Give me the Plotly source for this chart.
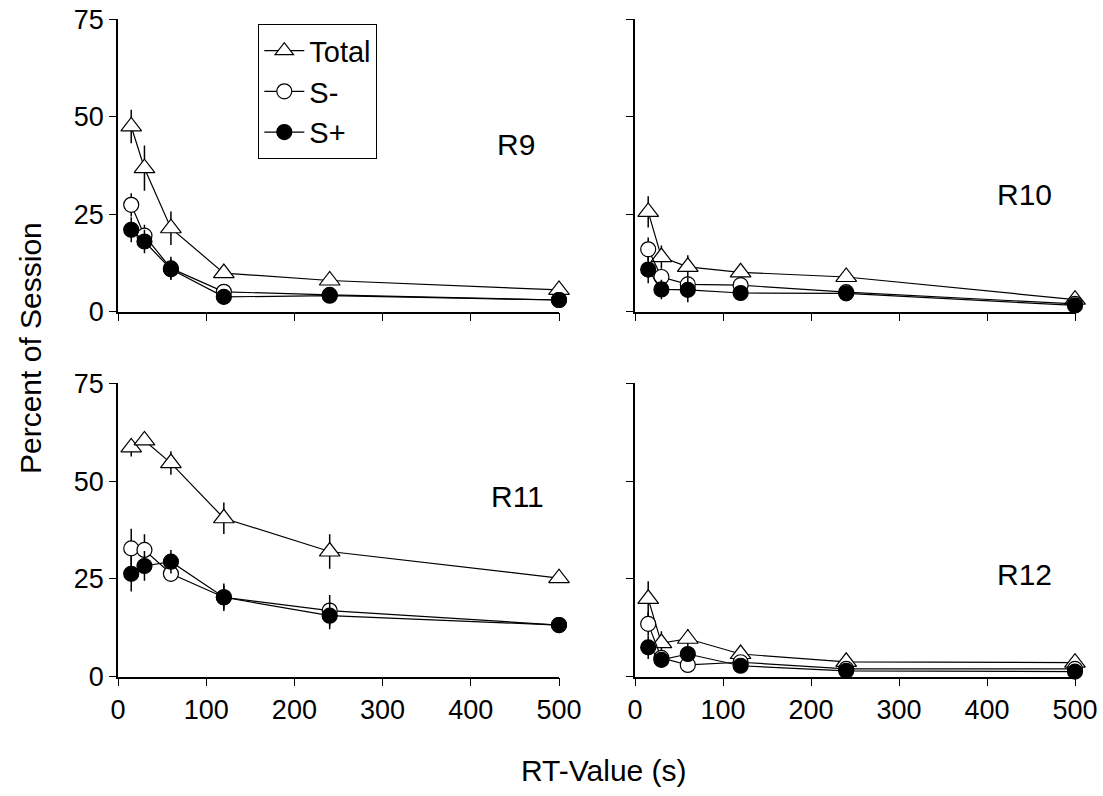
import plotly.graph_objects as go
from plotly.subplots import make_subplots

# RT schedule values (s)
rt_values = [15, 30, 60, 120, 240, 500]

# Percent of session per subject: means and error half-widths
r9_total = [47.5, 36.8, 21.4, 9.9, 8.0, 5.6]
r9_total_err = [4.3, 5.8, 4.3, 1.2, 0.8, 0.5]
r9_sminus = [27.4, 19.5, 11.1, 5.1, 4.3, 3.0]
r9_sminus_err = [3.0, 2.8, 3.0, 1.5, 0.5, 0.5]
r9_splus = [21.0, 18.0, 10.9, 3.8, 4.1, 3.0]
r9_splus_err = [3.2, 3.0, 2.5, 1.2, 0.5, 0.5]

r10_total = [25.6, 14.0, 11.5, 10.1, 8.9, 3.1]
r10_total_err = [4.0, 3.0, 3.0, 1.0, 1.0, 0.5]
r10_sminus = [16.0, 8.9, 7.0, 6.8, 5.0, 2.0]
r10_sminus_err = [3.0, 2.0, 1.0, 1.0, 0.5, 0.5]
r10_splus = [10.8, 5.7, 5.6, 4.8, 4.7, 1.6]
r10_splus_err = [3.5, 2.5, 3.2, 1.0, 1.0, 0.5]

r11_total = [58.6, 60.4, 54.6, 40.5, 32.0, 25.2]
r11_total_err = [2.3, 1.0, 3.0, 4.0, 4.4, 0.8]
r11_sminus = [32.8, 32.4, 26.3, 20.3, 16.9, 13.2]
r11_sminus_err = [5.0, 4.0, 2.0, 3.0, 4.0, 0.5]
r11_splus = [26.3, 28.3, 29.4, 20.3, 15.6, 13.2]
r11_splus_err = [4.5, 3.8, 3.0, 3.5, 3.5, 1.0]

r12_total = [19.9, 8.6, 9.7, 5.8, 3.8, 3.6]
r12_total_err = [4.5, 3.0, 2.5, 1.0, 0.8, 0.5]
r12_sminus = [13.5, 4.8, 3.0, 3.7, 2.0, 2.0]
r12_sminus_err = [3.0, 1.0, 0.5, 1.5, 0.8, 0.5]
r12_splus = [7.5, 4.3, 5.8, 2.8, 1.5, 1.3]
r12_splus_err = [3.0, 1.0, 1.0, 1.0, 0.5, 0.5]

subject_labels = ["R9", "R10", "R11", "R12"]
series_names = ["Total", "S-", "S+"]
y_tick_values = [0, 25, 50, 75]
x_tick_values = [0, 100, 200, 300, 400, 500]

panels = [
    (1, 1, [r9_total, r9_sminus, r9_splus], [r9_total_err, r9_sminus_err, r9_splus_err], (451, 43)),
    (1, 2, [r10_total, r10_sminus, r10_splus], [r10_total_err, r10_sminus_err, r10_splus_err], (443, 30)),
    (2, 1, [r11_total, r11_sminus, r11_splus], [r11_total_err, r11_sminus_err, r11_splus_err], (453, 46)),
    (2, 2, [r12_total, r12_sminus, r12_splus], [r12_total_err, r12_sminus_err, r12_splus_err], (443, 26)),
]

FONT = "Liberation Sans, Arial, sans-serif"

marker_styles = [
    dict(symbol="triangle-up", size=18, color="white", line=dict(color="black", width=1.2)),
    dict(symbol="circle", size=15, color="white", line=dict(color="black", width=1.2)),
    dict(symbol="circle", size=15, color="black", line=dict(color="black", width=1.2)),
]

fig = make_subplots(rows=2, cols=2, horizontal_spacing=0.05, vertical_spacing=0.05)

for idx, (r, c, means, errs, label_pos) in enumerate(panels):
    for s in range(3):
        fig.add_trace(
            go.Scatter(
                x=rt_values,
                y=means[s],
                mode="lines+markers",
                name=series_names[s],
                showlegend=(idx == 0),
                line=dict(color="black", width=1.2),
                marker=marker_styles[s],
                error_y=dict(type="data", array=errs[s], visible=True,
                             width=0, thickness=1.5, color="black"),
                cliponaxis=False,
            ),
            row=r, col=c,
        )
    fig.add_annotation(
        x=label_pos[0], y=label_pos[1], text=subject_labels[idx],
        showarrow=False, font=dict(family=FONT, size=30, color="black"),
        row=r, col=c,
    )

W, H = 1103, 796
x_domains = {1: [118 / W, 559 / W], 2: [635 / W, 1075 / W]}
y_domains = {1: [(H - 311.7) / H, (H - 19.2) / H], 2: [(H - 676.7) / H, (H - 383.3) / H]}

for r in (1, 2):
    for c in (1, 2):
        fig.update_xaxes(
            domain=x_domains[c], range=[0, 500], tickvals=x_tick_values,
            showticklabels=(r == 2), ticks="outside", ticklen=8, tickwidth=1.3,
            tickcolor="black", showline=True, linecolor="black", linewidth=1.5,
            showgrid=False, zeroline=False, automargin=False,
            tickfont=dict(family=FONT, size=27, color="black"),
            row=r, col=c,
        )
        fig.update_yaxes(
            domain=y_domains[r], range=[0, 75], tickvals=y_tick_values,
            showticklabels=(c == 1), ticks="outside", ticklen=7, tickwidth=1.3,
            tickcolor="black", showline=True, linecolor="black", linewidth=1.5,
            showgrid=False, zeroline=False, automargin=False,
            tickfont=dict(family=FONT, size=27, color="black"),
            row=r, col=c,
        )

fig.add_annotation(
    x=30 / W, y=(H - 348) / H, xref="paper", yref="paper",
    xanchor="center", yanchor="middle",
    text="Percent of Session", textangle=-90, showarrow=False,
    font=dict(family=FONT, size=30, color="black"),
)
fig.add_annotation(
    x=604 / W, y=(H - 770) / H, xref="paper", yref="paper",
    xanchor="center", yanchor="middle",
    text="RT-Value (s)", showarrow=False,
    font=dict(family=FONT, size=30, color="black"),
)

fig.update_layout(
    width=W, height=H,
    margin=dict(l=0, r=0, t=0, b=0, autoexpand=False),
    paper_bgcolor="white", plot_bgcolor="white",
    font=dict(family=FONT, color="black"),
    legend=dict(
        x=258 / W, y=(H - 24) / H, xanchor="left", yanchor="top",
        bordercolor="black", borderwidth=1.3, bgcolor="white",
        font=dict(family=FONT, size=29, color="black"),
        tracegroupgap=0, itemwidth=40,
    ),
)

fig.write_html("out.html")
